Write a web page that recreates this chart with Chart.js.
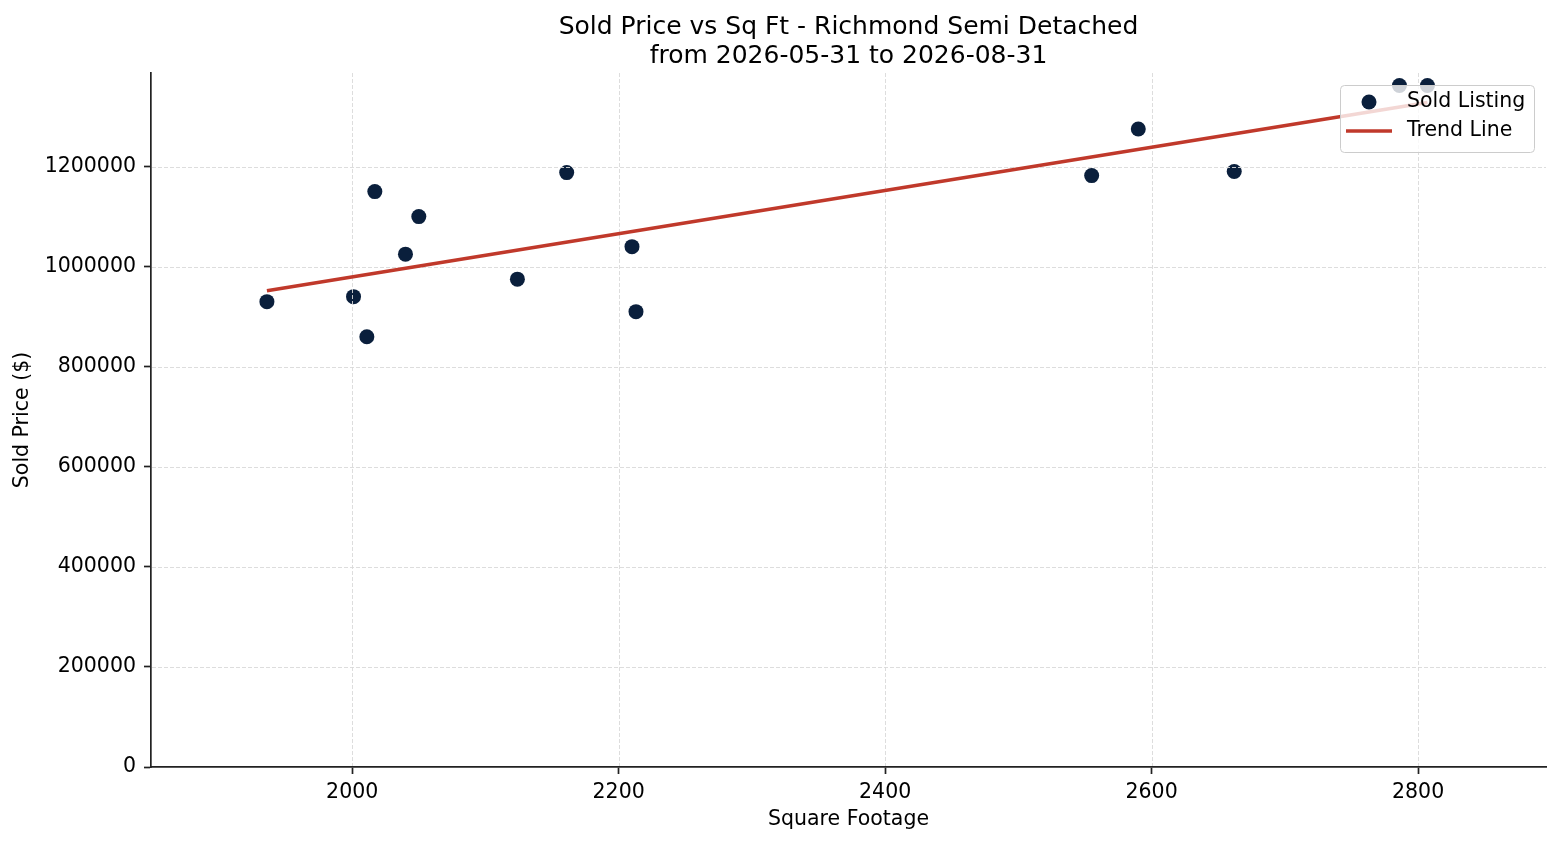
<!DOCTYPE html>
<html>
<head>
<meta charset="utf-8">
<script src="https://cdn.jsdelivr.net/npm/chart.js@4/dist/chart.umd.min.js"></script>
<style>
  html, body { margin: 0; padding: 0; background: #ffffff; }
  #wrap { width: 1560px; height: 845px; }
</style>
</head>
<body>
<div id="wrap"><canvas id="chart" width="1560" height="845"></canvas></div>
<script>
const FONT = "'DejaVu Sans', 'Liberation Sans', sans-serif";

const titleLines = ['Sold Price vs Sq Ft - Richmond Semi Detached', 'from 2026-05-31 to 2026-08-31'];

const sqft = [1936, 2001, 2011, 2017, 2040, 2050, 2124, 2161, 2210, 2213, 2555, 2590, 2662, 2786, 2807];
const soldPrice = [930000, 940000, 860000, 1150000, 1025000, 1100000, 975000, 1188000, 1040000, 910000, 1182000, 1275000, 1190000, 1362000, 1362000];

const trendSqft = [1936, 2807];
const trendPrice = [952000, 1328000];

const xTickValues = [2000, 2200, 2400, 2600, 2800];
const yTickValues = [0, 200000, 400000, 600000, 800000, 1000000, 1200000];

const xRange = [1849, 2896];
const yRange = [0, 1387000];

const NAVY = '#0a1f3c';
const RED = '#c0392b';
const AXIS = '#222222';

function toPoints(xs, ys) {
  return xs.map((x, i) => ({ x, y: ys[i] }));
}

// grid goes above the scatter dots but below the trend line, like matplotlib
const gridUnderLine = {
  id: 'gridUnderLine',
  afterDatasetDraw(chart, args) {
    if (args.index !== 0) return;
    const { ctx, chartArea, scales } = chart;
    ctx.save();
    ctx.strokeStyle = '#d9d9d9';
    ctx.lineWidth = 0.9;
    ctx.setLineDash([4, 2]);
    scales.x.ticks.forEach((t) => {
      const px = Math.round(scales.x.getPixelForValue(t.value)) + 0.5;
      if (px <= chartArea.left + 1 || px >= chartArea.right - 1) return;
      ctx.beginPath();
      ctx.moveTo(px, chartArea.top);
      ctx.lineTo(px, chartArea.bottom - 1);
      ctx.stroke();
    });
    scales.y.ticks.forEach((t) => {
      const py = Math.round(scales.y.getPixelForValue(t.value)) + 0.5;
      if (py <= chartArea.top + 1 || py >= chartArea.bottom - 1) return;
      ctx.beginPath();
      ctx.moveTo(chartArea.left + 1, py);
      ctx.lineTo(chartArea.right, py);
      ctx.stroke();
    });
    ctx.restore();
  }
};

const titleAndLegend = {
  id: 'titleAndLegend',
  afterDraw(chart) {
    const { ctx, chartArea } = chart;
    const cx = (chartArea.left + chartArea.right) / 2;

    ctx.save();
    ctx.fillStyle = '#000000';
    ctx.font = `25px ${FONT}`;
    ctx.textAlign = 'center';
    ctx.textBaseline = 'alphabetic';
    ctx.fillText(titleLines[0], cx, 33.5);
    ctx.fillText(titleLines[1], cx, 63);

    // legend box, top right inside the plot
    const w = 194, h = 67;
    const x0 = chartArea.right - 12 - w;
    const y0 = chartArea.top + 12;
    ctx.beginPath();
    ctx.roundRect(x0 + 0.5, y0 + 0.5, w, h, 4);
    ctx.fillStyle = 'rgba(255,255,255,0.8)';
    ctx.fill();
    ctx.strokeStyle = '#cccccc';
    ctx.lineWidth = 1;
    ctx.stroke();

    const [dots, trend] = chart.data.datasets;
    ctx.beginPath();
    ctx.arc(x0 + 29, y0 + 17, 7.5, 0, Math.PI * 2);
    ctx.fillStyle = dots.backgroundColor;
    ctx.fill();

    ctx.beginPath();
    ctx.moveTo(x0 + 6, y0 + 46);
    ctx.lineTo(x0 + 52, y0 + 46);
    ctx.strokeStyle = trend.borderColor;
    ctx.lineWidth = 3.5;
    ctx.stroke();

    ctx.fillStyle = '#000000';
    ctx.font = `20.5px ${FONT}`;
    ctx.textAlign = 'left';
    ctx.textBaseline = 'middle';
    ctx.fillText(dots.label, x0 + 67, y0 + 17);
    ctx.fillText(trend.label, x0 + 67, y0 + 46);
    ctx.restore();
  }
};

function axisOptions(ticks, range, titleText, titlePadding, fit) {
  return {
    type: 'linear',
    min: range[0],
    max: range[1],
    afterBuildTicks: (scale) => { scale.ticks = ticks.map((v) => ({ value: v })); },
    afterFit: fit,
    border: { display: true, color: AXIS, width: 1.7 },
    grid: {
      color: 'rgba(0,0,0,0)',
      tickColor: AXIS,
      tickWidth: 1.7,
      tickLength: 7,
      tickBorderDash: []
    },
    ticks: {
      color: '#000000',
      font: { family: FONT, size: 20.5 },
      autoSkip: false,
      maxRotation: 0,
      callback: (value) => String(value)
    },
    title: {
      display: true,
      text: titleText,
      color: '#000000',
      font: { family: FONT, size: 20.5 },
      padding: titlePadding
    }
  };
}

const xAxis = axisOptions(xTickValues, xRange, 'Square Footage', { top: 0, bottom: 13.5 }, (s) => { s.height = 78; });
xAxis.ticks.padding = 6;
const yAxis = axisOptions(yTickValues, yRange, 'Sold Price ($)', { top: 10.5, bottom: 0 }, (s) => { s.width = 151; });
yAxis.ticks.padding = 8;

new Chart(document.getElementById('chart'), {
  type: 'scatter',
  data: {
    datasets: [
      {
        label: 'Sold Listing',
        data: toPoints(sqft, soldPrice),
        backgroundColor: NAVY,
        borderWidth: 0,
        pointRadius: 7.5,
        pointHoverRadius: 7.5,
        order: 1
      },
      {
        label: 'Trend Line',
        data: toPoints(trendSqft, trendPrice),
        showLine: true,
        borderColor: RED,
        backgroundColor: RED,
        borderWidth: 3.5,
        pointRadius: 0,
        pointHoverRadius: 0,
        fill: false,
        order: 0
      }
    ]
  },
  options: {
    responsive: false,
    devicePixelRatio: 1,
    animation: false,
    layout: { padding: { top: 73, right: 14, bottom: 0, left: 0 } },
    plugins: {
      legend: { display: false },
      title: { display: false },
      tooltip: { enabled: false }
    },
    scales: { x: xAxis, y: yAxis }
  },
  plugins: [gridUnderLine, titleAndLegend]
});
</script>
</body>
</html>
